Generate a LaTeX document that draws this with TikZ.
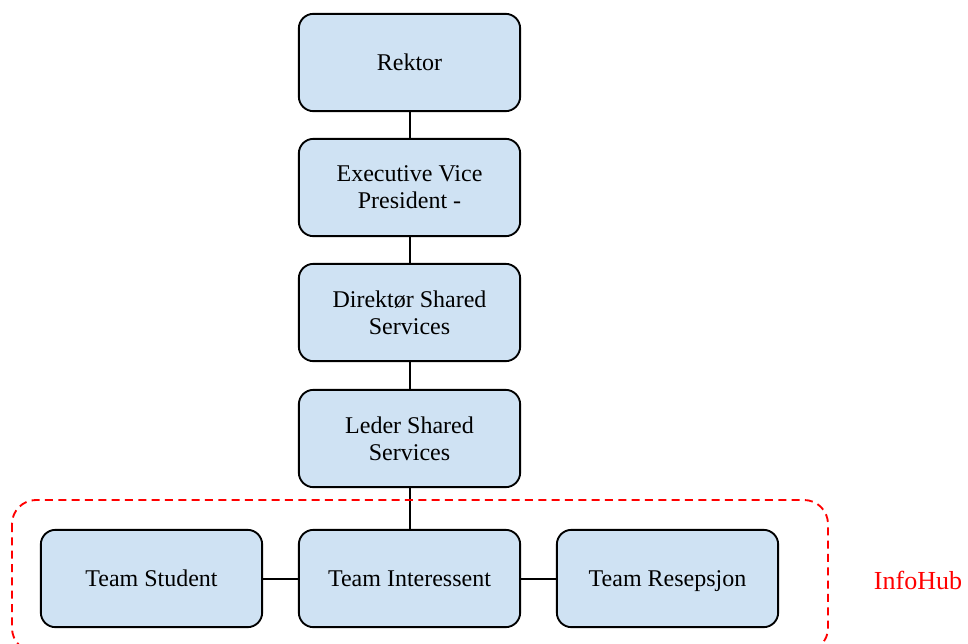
\documentclass[tikz,border=0pt]{standalone}
\usepackage{fontspec}
\setmainfont{Liberation Serif}
\definecolor{unitblue}{RGB}{207,226,243}

\tikzset{
  unit/.style={draw, line width=1.4pt, rounded corners=11pt, fill=unitblue,
    minimum width=166pt, minimum height=73pt, inner sep=0pt, align=center,
    font=\fontsize{18}{20.5}\selectfont},
  team/.style={unit, text height=14.5pt, text depth=3pt},
  link/.style={line width=1.5pt},
  hubline/.style={draw=red, line width=1.4pt, dash pattern=on 6pt off 4pt, rounded corners=18pt}
}

\begin{document}
\begin{tikzpicture}[x=0.75pt, y=-0.75pt]

            \def \cx {409.5}

            \useasboundingbox (0,0) rectangle (968,643);

            % the chain from the top down
            \node[unit] (rektor) at (\cx,62.5) {Rektor};
            \node[unit] (evp) at (\cx,187.5) {Executive Vice\\President -};
            \node[unit] (direktor) at (\cx,312.5) {Direktør Shared\\Services};
            \node[unit] (leder) at (\cx,438.5) {Leder Shared\\Services};

            % the teams
            \node[team] (interessent) at (\cx,578.5) {Team Interessent};
            \node[team] (student) at (151.5,578.5) {Team Student};
            \node[team] (resepsjon) at (667.5,578.5) {Team Resepsjon};

            \draw[link] (rektor) -- (evp);
            \draw[link] (evp) -- (direktor);
            \draw[link] (direktor) -- (leder);
            \draw[link] (leder) -- (interessent);
            \draw[link] (student) -- (interessent);
            \draw[link] (interessent) -- (resepsjon);

            % infohub group
            \draw[hubline] (12,500) rectangle (828,652);
            \node[text=red, font=\fontsize{19.5}{22}\selectfont] (infohub) at (918,580) {InfoHub};
            \end{tikzpicture}
\end{document}
